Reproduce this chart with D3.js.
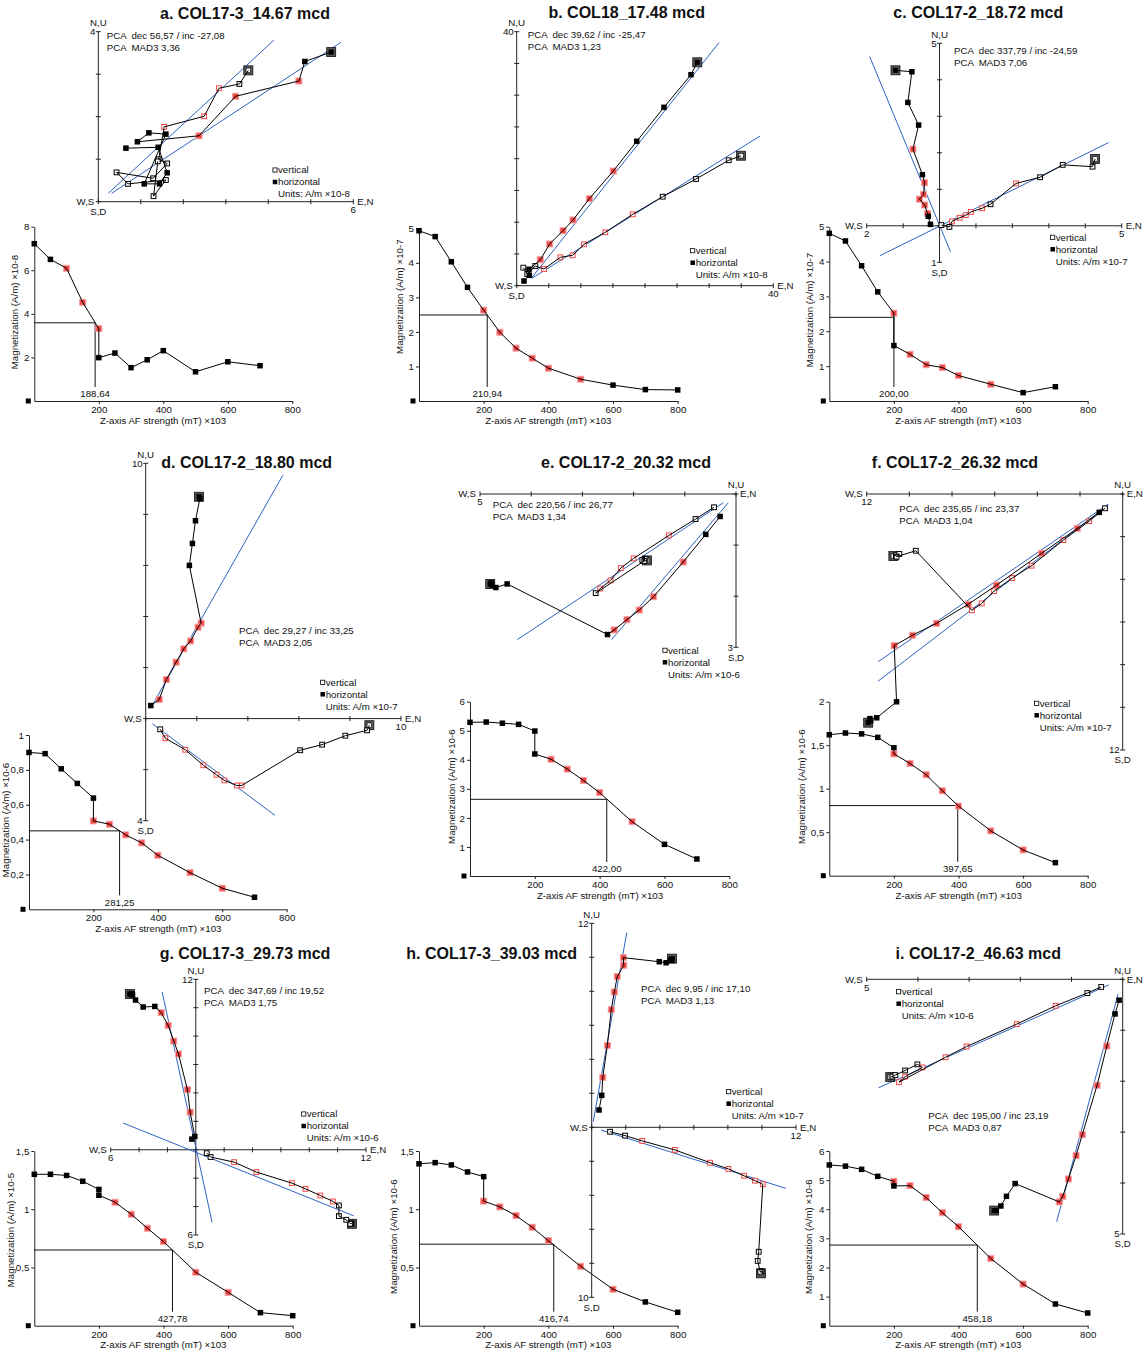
<!DOCTYPE html>
<html><head><meta charset="utf-8">
<script src="https://cdn.jsdelivr.net/npm/d3@7"></script>
<style>
body{margin:0;background:#fff}
svg{display:block}
text{font-family:"Liberation Sans",Arial,sans-serif;white-space:pre}
</style>
</head><body>
<svg id="chart" width="1148" height="1353"></svg>
<script>
// ---------------- DATA ----------------
const stepsA = [0,50,100,150,200,200,250,300,350,400,500,600,700];
const stepsB = [0,50,100,150,200,250,300,350,400,500,600,700,800];
const stepsC = [0,50,100,150,200,200,250,300,350,400,500,600,700,800];
const afTicks = [200,400,600,800];

// a
const aTitle = "a. COL17-3_14.67 mcd";
const aPca = ["PCA  dec 56,57 / inc -27,08","PCA  MAD3 3,36"];
const aUnits = "Units: A/m \u00d710-8";
const aZx = [0,6], aZy = [0,4], aZstep = 1;
const aHz = [[5.48,3.52],[4.86,3.30],[4.72,2.84],[3.23,2.48],[2.37,1.55],[0.92,1.41],[1.19,1.62],[1.59,1.59],[1.08,0.42],[1.44,0.42],[1.62,0.68],[1.41,1.28],[0.65,1.26]];
const aHzSel = [0,0,1,1,1,0,0,0,0,0,0,0,0];
const aVt = [[3.53,3.09],[3.32,2.77],[2.84,2.67],[2.49,2.01],[1.55,1.76],[1.42,1.00],[1.62,0.90],[1.29,0.55],[0.43,0.69],[0.70,0.42],[1.59,0.51],[1.30,0.13],[1.40,0.95]];
const aVtSel = [0,0,1,1,1,0,0,0,0,0,0,0,0];
const aFit = [[0.235,0.198,4.13,3.80],[0.315,0.198,5.71,3.75]];
const aMag = [7.22,6.50,6.09,4.53,3.32,1.99,2.20,1.53,1.89,2.31,1.34,1.80,1.62];
const aMagSel = [0,0,1,1,1,0,0,0,0,0,0,0,0];
const aMagTicks = [2,4,6,8];
const aMagLabel = "Magnetization (A/m) \u00d710-8";
const aMdf = [188.64,3.59];

// b
const bTitle = "b. COL18_17.48 mcd";
const bPca = ["PCA  dec 39,62 / inc -25,47","PCA  MAD3 1,23"];
const bUnits = "Units: A/m \u00d710-8";
const bZx = [0,40], bZy = [0,40], bZstep = 5;
const bHz = [[28.15,35.18],[27.17,33.23],[22.96,28.09],[18.71,22.74],[15.06,18.06],[11.32,13.70],[8.78,10.35],[7.22,8.66],[5.14,6.57],[3.68,4.09],[1.92,2.58],[1.97,1.64],[1.14,0.74]];
const bHzSel = [0,0,0,0,1,1,1,1,1,1,0,0,0];
const bVt = [[34.97,20.47],[33.05,19.75],[27.95,16.80],[22.76,14.02],[18.08,11.24],[13.81,8.41],[10.49,6.52],[8.73,4.79],[6.80,4.47],[4.26,2.63],[2.90,3.10],[1.65,1.84],[1.03,2.84]];
const bVtSel = [0,0,0,0,1,1,1,1,1,1,0,0,0];
const bFit = [[2.34,1.26,31.54,38.27],[2.34,1.16,37.93,23.57]];
const bMag = [4.93,4.76,4.03,3.29,2.63,1.99,1.53,1.24,0.95,0.63,0.46,0.33,0.32];
const bMagSel = [0,0,0,0,1,1,1,1,1,1,0,0,0];
const bMagTicks = [1,2,3,4,5];
const bMagLabel = "Magnetization (A/m) \u00d710-7";
const bMdf = [210.94,2.49];

// c
const cTitle = "c. COL17-2_18.72 mcd";
const cPca = ["PCA  dec 337,79 / inc -24,59","PCA  MAD3 7,06"];
const cUnits = "Units: A/m \u00d710-7";
const cZx = [-2,5], cZy = [-1,5], cZstep = 1;
const cHz = [[-1.21,4.26],[-0.76,4.22],[-0.87,3.38],[-0.575,2.76],[-0.73,2.10],[-0.47,1.40],[-0.41,1.18],[-0.44,0.86],[-0.55,0.73],[-0.41,0.57],[-0.33,0.34],[-0.31,0.26],[-0.25,0.04]];
const cHzSel = [0,0,0,0,1,0,1,1,1,1,1,0,0];
const cVt = [[4.27,1.83],[4.20,1.62],[3.38,1.67],[2.76,1.33],[2.10,1.16],[1.40,0.59],[1.17,0.48],[0.86,0.38],[0.72,0.29],[0.55,0.22],[0.34,0.12],[0.27,-0.03],[0.05,0.02]];
const cVtSel = [0,0,0,0,1,0,1,1,1,1,1,0,0];
const cFit = [[-1.92,4.64,0.30,-0.71],[-1.64,-0.82,4.64,2.28]];
const cMag = [4.81,4.59,3.88,3.13,2.52,1.59,1.34,1.04,0.96,0.73,0.48,0.24,0.41];
const cMagSel = [0,0,0,0,1,0,1,1,1,1,1,0,0];
const cMagTicks = [1,2,3,4,5];
const cMagLabel = "Magnetization (A/m) \u00d710-7";
const cMdf = [200.00,2.40];

// d
const dTitle = "d. COL17-2_18.80 mcd";
const dPca = ["PCA  dec 29,27 / inc 33,25","PCA  MAD3 2,05"];
const dUnits = "Units: A/m \u00d710-7";
const dZx = [0,10], dZy = [-4,10], dZstep = 2;
const dHz = [[2.09,8.69],[2.12,8.62],[1.95,7.75],[1.83,6.86],[1.71,6.00],[2.17,3.74],[2.05,3.58],[1.76,3.04],[1.49,2.73],[1.19,2.21],[0.81,1.53],[0.53,0.75],[0.20,0.51]];
const dHzSel = [0,0,0,0,0,1,1,1,1,1,1,1,0];
const dVt = [[8.76,-0.26],[8.67,-0.46],[7.82,-0.67],[6.91,-1.02],[6.05,-1.24],[3.76,-2.62],[3.57,-2.62],[3.08,-2.42],[2.77,-2.20],[2.26,-1.83],[1.55,-1.22],[0.77,-0.77],[0.57,-0.42]];
const dVtSel = [0,0,0,0,0,1,1,1,1,1,1,1,0];
const dFit = [[0.235,0.48,5.37,9.53],[0.26,-0.20,5.06,-3.79]];
const dMag = [0.900,0.893,0.806,0.722,0.638,0.507,0.488,0.427,0.381,0.310,0.210,0.121,0.069];
const dMagSel = [0,0,0,0,0,1,1,1,1,1,1,1,0];
const dMagTicks = [0.2,0.4,0.6,0.8,1];
const dMagLabel = "Magnetization (A/m) \u00d710-6";
const dMdf = [281.25,0.450];

// e
const eTitle = "e. COL17-2_20.32 mcd";
const ePca = ["PCA  dec 220,56 / inc 26,77","PCA  MAD3 1,34"];
const eUnits = "Units: A/m \u00d710-6";
const eZx = [-5,0], eZy = [-3,0], eZstep = 1;
const eHz = [[-4.80,-1.76],[-4.77,-1.78],[-4.78,-1.74],[-4.69,-1.83],[-4.47,-1.76],[-2.51,-2.75],[-2.38,-2.66],[-2.13,-2.46],[-1.89,-2.27],[-1.61,-2.01],[-1.03,-1.33],[-0.59,-0.79],[-0.31,-0.44]];
const eHzSel = [0,0,0,0,0,0,1,1,1,1,1,0,0];
const eVt = [[-1.74,-1.30],[-1.81,-1.31],[-1.77,-1.27],[-1.83,-1.29],[-1.79,-1.31],[-2.74,-1.94],[-2.65,-1.85],[-2.45,-1.69],[-2.25,-1.45],[-2.00,-1.26],[-1.31,-0.81],[-0.79,-0.49],[-0.43,-0.26]];
const eVtSel = [0,0,0,0,0,0,1,1,1,1,1,0,0];
const eFit = [[-2.43,-2.85,-0.15,-0.17],[-4.27,-2.85,-0.25,-0.17]];
const eMag = [5.29,5.30,5.26,5.22,4.99,4.20,4.02,3.68,3.29,2.87,1.87,1.09,0.585];
const eMagSel = [0,0,0,0,0,0,1,1,1,1,1,0,0];
const eMagTicks = [1,2,3,4,5,6];
const eMagLabel = "Magnetization (A/m) \u00d710-6";
const eMdf = [422.00,2.64];

// f
const fTitle = "f. COL17-2_26.32 mcd";
const fPca = ["PCA  dec 235,65 / inc 23,37","PCA  MAD3 1,04"];
const fUnits = "Units: A/m \u00d710-7";
const fZx = [-12,0], fZy = [-12,0], fZstep = 2;
const fHz = [[-11.93,-10.72],[-11.81,-10.63],[-11.85,-10.53],[-11.53,-10.49],[-10.60,-9.74],[-10.71,-7.11],[-9.85,-6.62],[-8.72,-6.06],[-7.24,-5.17],[-5.91,-4.27],[-3.80,-2.78],[-2.13,-1.61],[-1.10,-0.86]];
const fHzSel = [0,0,0,0,0,1,1,1,1,1,1,1,0];
const fVt = [[-10.75,-2.91],[-10.63,-2.87],[-10.47,-2.81],[-10.60,-2.94],[-9.70,-2.66],[-7.07,-5.45],[-6.61,-5.13],[-6.03,-4.55],[-5.18,-3.94],[-4.27,-3.36],[-2.78,-2.16],[-1.57,-1.27],[-0.83,-0.67]];
const fVtSel = [0,0,0,0,0,1,1,1,1,1,1,1,0];
const fFit = [[-11.46,-7.86,-0.675,-0.47],[-11.46,-8.77,-0.675,-0.52]];
const fMag = [1.62,1.64,1.63,1.59,1.47,1.40,1.29,1.16,0.976,0.80,0.515,0.296,0.15];
const fMagSel = [0,0,0,0,0,1,1,1,1,1,1,1,0];
const fMagTicks = [0.5,1,1.5,2];
const fMagLabel = "Magnetization (A/m) \u00d710-6";
const fMdf = [397.65,0.806];

// g
const gTitle = "g. COL17-3_29.73 mcd";
const gPca = ["PCA  dec 347,69 / inc 19,52","PCA  MAD3 1,75"];
const gUnits = "Units: A/m \u00d710-6";
const gZx = [-6,12], gZy = [-6,12], gZstep = 2;
const gHz = [[-4.65,10.96],[-4.50,10.98],[-4.46,10.90],[-4.25,10.54],[-3.71,10.05],[-2.89,10.09],[-2.44,9.65],[-1.95,8.76],[-1.55,7.65],[-1.22,6.74],[-0.59,4.23],[-0.40,2.65],[-0.07,0.94],[-0.28,0.75]];
const gHzSel = [0,0,0,0,0,0,1,1,1,1,1,1,0,0];
const gVt = [[11.01,-5.21],[10.95,-5.18],[10.89,-5.21],[10.61,-4.93],[10.09,-4.67],[10.09,-3.92],[9.67,-3.64],[8.78,-3.22],[7.73,-2.75],[6.78,-2.35],[4.27,-1.57],[2.70,-0.87],[1.04,-0.51],[0.77,-0.24]];
const gVtSel = [0,0,0,0,0,0,1,1,1,1,1,1,0,0];
const gFit = [[-2.37,11.1,1.15,-5.12],[-5.12,1.88,11.13,-4.65]];
const gMag = [1.30,1.30,1.29,1.24,1.17,1.12,1.06,0.957,0.837,0.722,0.459,0.287,0.112,0.086];
const gMagSel = [0,0,0,0,0,0,1,1,1,1,1,1,0,0];
const gMagTicks = [0.5,1,1.5];
const gMagLabel = "Magnetization (A/m) \u00d710-5";
const gMdf = [427.78,0.65];

// h
const hTitle = "h. COL17-3_39.03 mcd";
const hPca = ["PCA  dec 9,95 / inc 17,10","PCA  MAD3 1,13"];
const hUnits = "Units: A/m \u00d710-7";
const hZx = [0,12], hZy = [-10,12], hZstep = 2;
const hHz = [[4.72,9.92],[4.70,9.82],[4.62,9.85],[4.37,9.68],[3.97,9.74],[1.86,9.98],[1.88,9.53],[1.50,8.86],[1.33,7.96],[1.15,6.92],[0.92,4.82],[0.65,2.94],[0.59,1.88],[0.43,1.02]];
const hHzSel = [0,0,0,0,0,1,1,1,1,1,1,1,0,0];
const hVt = [[9.95,-8.59],[9.97,-8.45],[9.90,-8.50],[9.75,-7.86],[9.81,-7.32],[10.05,-3.35],[9.59,-3.14],[8.95,-2.85],[8.03,-2.45],[6.95,-2.08],[4.88,-1.33],[2.97,-0.80],[1.96,-0.49],[1.08,-0.26]];
const hVtSel = [0,0,0,0,0,1,1,1,1,1,1,1,0,0];
const hFit = [[0.09,0.33,2.06,11.45],[0.55,-0.16,11.4,-3.59]];
const hMag = [1.39,1.40,1.38,1.32,1.28,1.07,1.02,0.945,0.845,0.73,0.51,0.313,0.204,0.115];
const hMagSel = [0,0,0,0,0,1,1,1,1,1,1,1,0,0];
const hMagTicks = [0.5,1,1.5];
const hMagLabel = "Magnetization (A/m) \u00d710-6";
const hMdf = [416.74,0.70];

// i
const iTitle = "i. COL17-2_46.63 mcd";
const iPca = ["PCA  dec 195,00 / inc 23,19","PCA  MAD3 0,87"];
const iUnits = "Units: A/m \u00d710-6";
const iZx = [-5,0], iZy = [-5,0], iZstep = 1;
const iHz = [[-2.51,-4.54],[-2.47,-4.54],[-2.38,-4.45],[-2.27,-4.26],[-2.10,-4.01],[-1.24,-4.37],[-1.17,-4.26],[-1.06,-3.92],[-0.91,-3.46],[-0.79,-3.05],[-0.50,-2.08],[-0.31,-1.31],[-0.15,-0.68],[-0.07,-0.41]];
const iHzSel = [0,0,0,0,0,1,1,1,1,1,1,1,0,0];
const iVt = [[-4.54,-1.92],[-4.50,-1.91],[-4.44,-1.88],[-4.25,-1.79],[-4.01,-1.67],[-3.91,-1.73],[-4.25,-1.91],[-4.37,-2.02],[-3.46,-1.53],[-3.05,-1.32],[-2.07,-0.88],[-1.31,-0.52],[-0.69,-0.27],[-0.42,-0.15]];
const iVtSel = [0,0,0,0,0,1,1,1,1,1,1,1,0,0];
const iFit = [[-1.29,-4.76,-0.09,-0.29],[-4.77,-2.13,-0.27,-0.11]];
const iMag = [5.52,5.48,5.37,5.13,4.96,4.80,4.81,4.40,3.88,3.40,2.31,1.43,0.745,0.436];
const iMagSel = [0,0,0,0,1,0,1,1,1,1,1,1,0,0];
const iMagTicks = [1,2,3,4,5,6];
const iMagLabel = "Magnetization (A/m) \u00d710-6";
const iMdf = [458.18,2.77];

const afLabel = "Z-axis AF strength (mT) \u00d7103";

// ---------------- LAYOUT (pixel positions) ----------------
const panels = [
 {title:aTitle,pca:aPca,units:aUnits,zx:aZx,zy:aZy,zstep:aZstep,hz:aHz,hzSel:aHzSel,vt:aVt,vtSel:aVtSel,fit:aFit,steps:stepsA,mag:aMag,magSel:aMagSel,magTicks:aMagTicks,magLabel:aMagLabel,mdf:aMdf,
  L:{t:[245,13],xr:[98.3,353.3],yr:[201.7,31.7],pcaP:[106.7,35.7],leg:[273,170],x0:34.3,x800:292.3,y0:401,ytop:226.7,yt:[15,312],xt:[163,420.7]}},
 {title:bTitle,pca:bPca,units:bUnits,zx:bZx,zy:bZy,zstep:bZstep,hz:bHz,hzSel:bHzSel,vt:bVt,vtSel:bVtSel,fit:bFit,steps:stepsB,mag:bMag,magSel:bMagSel,magTicks:bMagTicks,magLabel:bMagLabel,mdf:bMdf,
  L:{t:[626.7,12.7],xr:[516.7,773.3],yr:[285.7,31.7],pcaP:[527.7,35],leg:[690.7,250.7],x0:419,x800:677.7,y0:401,ytop:228.3,yt:[400,296.7],xt:[548.3,420.7]}},
 {title:cTitle,pca:cPca,units:cUnits,zx:cZx,zy:cZy,zstep:cZstep,hz:cHz,hzSel:cHzSel,vt:cVt,vtSel:cVtSel,fit:cFit,steps:stepsA,mag:cMag,magSel:cMagSel,magTicks:cMagTicks,magLabel:cMagLabel,mdf:cMdf,
  L:{t:[978.3,12.7],xr:[866.7,1121.7],yr:[262.3,43.3],pcaP:[954,51],leg:[1050.7,237.3],x0:829.3,x800:1087.7,y0:401,ytop:226.7,yt:[809.3,310],xt:[958.3,420.7]}},
 {title:dTitle,pca:dPca,units:dUnits,zx:dZx,zy:dZy,zstep:dZstep,hz:dHz,hzSel:dHzSel,vt:dVt,vtSel:dVtSel,fit:dFit,steps:stepsA,mag:dMag,magSel:dMagSel,magTicks:dMagTicks,magLabel:dMagLabel,mdf:dMdf,
  L:{t:[246.7,462.7],xr:[145.7,401],yr:[820.7,463.3],pcaP:[239,630.7],leg:[320.7,682.3],x0:29,x800:286.7,y0:909.3,ytop:735,yt:[6,820],xt:[158.3,929]}},
 {title:eTitle,pca:ePca,units:eUnits,zx:eZx,zy:eZy,zstep:eZstep,hz:eHz,hzSel:eHzSel,vt:eVt,vtSel:eVtSel,fit:eFit,steps:stepsA,mag:eMag,magSel:eMagSel,magTicks:eMagTicks,magLabel:eMagLabel,mdf:eMdf,
  L:{t:[626,462.7],xr:[480,736],yr:[647.3,494],pcaP:[492.7,505],leg:[663,650.3],x0:470,x800:729.3,y0:876,ytop:701.7,yt:[451.7,786.7],xt:[600,895.7]}},
 {title:fTitle,pca:fPca,units:fUnits,zx:fZx,zy:fZy,zstep:fZstep,hz:fHz,hzSel:fHzSel,vt:fVt,vtSel:fVtSel,fit:fFit,steps:stepsA,mag:fMag,magSel:fMagSel,magTicks:fMagTicks,magLabel:fMagLabel,mdf:fMdf,
  L:{t:[955,462.7],xr:[866.7,1122.7],yr:[750,494],pcaP:[899.3,509],leg:[1034.7,703.3],x0:829.3,x800:1087.7,y0:875.7,ytop:701.7,yt:[801.7,786.7],xt:[958.7,895.7]}},
 {title:gTitle,pca:gPca,units:gUnits,zx:gZx,zy:gZy,zstep:gZstep,hz:gHz,hzSel:gHzSel,vt:gVt,vtSel:gVtSel,fit:gFit,steps:stepsC,mag:gMag,magSel:gMagSel,magTicks:gMagTicks,magLabel:gMagLabel,mdf:gMdf,
  L:{t:[245,953.3],xr:[110.7,366],yr:[1235,979.3],pcaP:[204,991],leg:[301.7,1114],x0:34.3,x800:292.7,y0:1325.7,ytop:1151,yt:[11,1230],xt:[163.3,1345]}},
 {title:hTitle,pca:hPca,units:hUnits,zx:hZx,zy:hZy,zstep:hZstep,hz:hHz,hzSel:hHzSel,vt:hVt,vtSel:hVtSel,fit:hFit,steps:stepsC,mag:hMag,magSel:hMagSel,magTicks:hMagTicks,magLabel:hMagLabel,mdf:hMdf,
  L:{t:[491.7,953.3],xr:[591.7,796],yr:[1297.3,923.3],pcaP:[641,989],leg:[726.7,1091.7],x0:419,x800:677.7,y0:1325.7,ytop:1151,yt:[394,1236.7],xt:[548.3,1345]}},
 {title:iTitle,pca:iPca,units:iUnits,zx:iZx,zy:iZy,zstep:iZstep,hz:iHz,hzSel:iHzSel,vt:iVt,vtSel:iVtSel,fit:iFit,steps:stepsC,mag:iMag,magSel:iMagSel,magTicks:iMagTicks,magLabel:iMagLabel,mdf:iMdf,
  L:{t:[978.3,953.3],xr:[866.7,1122.7],yr:[1234,979.3],pcaP:[928.3,1115.7],leg:[896.7,991.7],x0:829.3,x800:1087.7,y0:1325.7,ytop:1151,yt:[808.3,1236.7],xt:[958.3,1345]}}
];

// ---------------- STYLE ----------------
const FS = 9.7;
const RED = "#f04646", RED_EDGE = "#f6a3a3", BLUE = "#2f63c0", AX = "#222";

const svg = d3.select("#chart");
const comma = v => String(v).replace(".", ",");

function sq(g, cx, cy, s, fill, stroke, sw) {
  g.append("rect").attr("x", cx - s/2).attr("y", cy - s/2).attr("width", s).attr("height", s)
   .attr("fill", fill).attr("stroke", stroke || "none").attr("stroke-width", sw || 0);
}
function txt(g, x, y, s, anchor, size, weight) {
  return g.append("text").attr("x", x).attr("y", y).attr("dy", "0.35em")
    .attr("xml:space", "preserve")
    .attr("text-anchor", anchor || "start").attr("font-size", size || FS)
    .attr("font-weight", weight || "normal").attr("fill", "#111").text(s);
}

function drawZij(p) {
  const L = p.L;
  const g = svg.append("g");
  const x = d3.scaleLinear().domain(p.zx).range(L.xr);
  const y = d3.scaleLinear().domain(p.zy).range(L.yr);
  const X0 = x(0), Y0 = y(0);
  // axes
  g.append("line").attr("x1", x(p.zx[0])).attr("x2", x(p.zx[1])).attr("y1", Y0).attr("y2", Y0).attr("stroke", AX).attr("stroke-width", 1);
  g.append("line").attr("x1", X0).attr("x2", X0).attr("y1", y(p.zy[0])).attr("y2", y(p.zy[1])).attr("stroke", AX).attr("stroke-width", 1);
  d3.range(p.zx[0], p.zx[1] + 1e-9, p.zstep).forEach(v => {
    g.append("line").attr("x1", x(v)).attr("x2", x(v)).attr("y1", Y0 - 2.5).attr("y2", Y0 + 2.5).attr("stroke", AX);
  });
  d3.range(p.zy[0], p.zy[1] + 1e-9, p.zstep).forEach(v => {
    g.append("line").attr("x1", X0 - 2.5).attr("x2", X0 + 2.5).attr("y1", y(v)).attr("y2", y(v)).attr("stroke", AX);
  });
  // axis labels
  txt(g, x(p.zx[0]) - 4, Y0, "W,S", "end");
  txt(g, x(p.zx[1]) + 4, Y0, "E,N", "start");
  txt(g, X0, y(p.zy[1]) - 9, "N,U", "middle");
  txt(g, X0, y(p.zy[0]) + 10, "S,D", "middle");
  if (p.zx[0] !== 0) txt(g, x(p.zx[0]), Y0 + 8, String(Math.abs(p.zx[0])), "middle");
  if (p.zx[1] !== 0) txt(g, x(p.zx[1]), Y0 + 8, String(Math.abs(p.zx[1])), "middle");
  if (p.zy[1] !== 0) txt(g, X0 - 3, y(p.zy[1]), String(Math.abs(p.zy[1])), "end");
  if (p.zy[0] !== 0) txt(g, X0 - 3, y(p.zy[0]), String(Math.abs(p.zy[0])), "end");
  // PCA fit lines
  p.fit.forEach(f => {
    g.append("line").attr("x1", x(f[0])).attr("y1", y(f[1])).attr("x2", x(f[2])).attr("y2", y(f[3]))
     .attr("stroke", BLUE).attr("stroke-width", 1);
  });
  // markers
  const drawSeries = (data, sel, filled) => {
    const cx0 = x(data[0][0]), cy0 = y(data[0][1]);
    sq(g, cx0, cy0, 9, "#555", "#111", 0.8);
    sq(g, cx0, cy0, 4.5, filled ? "#000" : "#fff", "#000", 0.6);
    data.forEach((d, i) => {
      if (i === 0) return;
      const cx = x(d[0]), cy = y(d[1]);
      if (filled) {
        if (sel[i]) sq(g, cx, cy, 6, RED, RED_EDGE, 1);
        else sq(g, cx, cy, 5.5, "#000");
      } else {
        sq(g, cx, cy, 4.8, "#fff", sel[i] ? RED : "#000", 1);
      }
    });
  };
  drawSeries(p.vt, p.vtSel, false);
  drawSeries(p.hz, p.hzSel, true);
  // connecting paths on top of markers
  const line = d3.line().x(d => x(d[0])).y(d => y(d[1]));
  g.append("path").attr("d", line(p.hz)).attr("fill", "none").attr("stroke", "#000").attr("stroke-width", 1);
  g.append("path").attr("d", line(p.vt)).attr("fill", "none").attr("stroke", "#000").attr("stroke-width", 1);
  // PCA text
  txt(g, L.pcaP[0], L.pcaP[1], p.pca[0], "start");
  txt(g, L.pcaP[0], L.pcaP[1] + 11.5, p.pca[1], "start");
  // legend
  const [lx, ly] = L.leg;
  sq(g, lx + 2, ly, 4.2, "#fff", "#000", 0.8);
  txt(g, lx + 5, ly, "vertical", "start");
  sq(g, lx + 2, ly + 12, 4.5, "#000");
  txt(g, lx + 5, ly + 12, "horizontal", "start");
  txt(g, lx + 5, ly + 24, p.units, "start");
}

function drawDemag(p) {
  const L = p.L;
  const g = svg.append("g");
  const ymax = p.magTicks[p.magTicks.length - 1];
  const x = d3.scaleLinear().domain([0, 800]).range([L.x0, L.x800]);
  const y = d3.scaleLinear().domain([0, ymax]).range([L.y0, L.ytop]);
  const ax = g.append("g").attr("transform", `translate(0,${L.y0})`)
    .call(d3.axisBottom(x).tickValues(afTicks).tickSize(3).tickSizeOuter(0).tickPadding(2).tickFormat(d3.format("d")));
  const ay = g.append("g").attr("transform", `translate(${L.x0},0)`)
    .call(d3.axisLeft(y).tickValues(p.magTicks).tickSize(3).tickSizeOuter(0).tickPadding(2).tickFormat(comma));
  [ax, ay].forEach(a => {
    a.attr("font-family", null).attr("font-size", null);
    a.selectAll("text").attr("font-size", FS).attr("fill", "#111");
    a.selectAll("path,line").attr("stroke", AX);
  });
  // corner marker
  sq(g, L.x0 - 6, L.y0, 5, "#000");
  // median destructive field lines
  const mx = x(p.mdf[0]), my = y(p.mdf[1]);
  g.append("line").attr("x1", L.x0).attr("x2", mx).attr("y1", my).attr("y2", my).attr("stroke", "#111").attr("stroke-width", 1);
  g.append("line").attr("x1", mx).attr("x2", mx).attr("y1", my).attr("y2", L.y0 - 14).attr("stroke", "#111").attr("stroke-width", 1);
  txt(g, mx, L.y0 - 7, p.mdf[0].toFixed(2).replace(".", ","), "middle");
  // markers then curve on top
  const pts = p.steps.map((s, i) => [s, p.mag[i]]);
  pts.forEach((d, i) => {
    if (p.magSel[i]) sq(g, x(d[0]), y(d[1]), 6, RED, RED_EDGE, 1);
    else sq(g, x(d[0]), y(d[1]), 5.5, "#000");
  });
  g.append("path").attr("d", d3.line().x(d => x(d[0])).y(d => y(d[1]))(pts))
    .attr("fill", "none").attr("stroke", "#000").attr("stroke-width", 1);
  // titles
  txt(g, L.xt[0], L.xt[1], afLabel, "middle");
  g.append("text").attr("transform", `translate(${L.yt[0]},${L.yt[1]}) rotate(-90)`)
    .attr("dy", "0.35em").attr("text-anchor", "middle").attr("font-size", FS).attr("fill", "#111").text(p.magLabel);
}

panels.forEach(p => {
  drawDemag(p);
  drawZij(p);
  txt(svg, p.L.t[0], p.L.t[1], p.title, "middle", 16, "bold");
});
</script>
</body></html>
